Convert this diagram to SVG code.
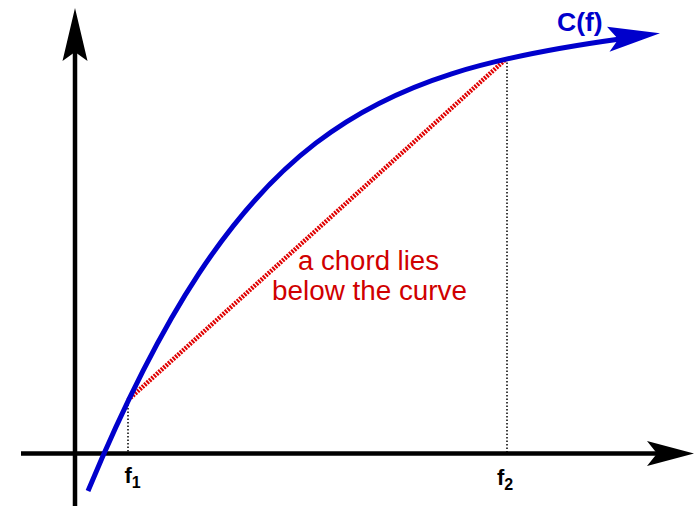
<svg xmlns="http://www.w3.org/2000/svg" width="697" height="506" viewBox="0 0 697 506">
<style>
.axis{stroke:#000;stroke-width:4.5;fill:none}
.head{fill:#000;stroke:none}
.curve{stroke:#0000cc;stroke-width:5;fill:none}
.chord{stroke:#e00000;stroke-width:4.5;stroke-dasharray:2 1.2;fill:none}
.guide{stroke:#000;stroke-width:1.5;stroke-dasharray:1.5 2;fill:none}
.lbl{font-family:"Liberation Sans",Arial,sans-serif;font-weight:bold;fill:#000}
.note{font-family:"Liberation Sans",Arial,sans-serif;font-size:27px;fill:#d00000;text-anchor:middle}
</style>
<rect width="697" height="506" fill="#fff"/>
<g id="axes">
<line class="axis" x1="75" y1="506" x2="75" y2="50"/>
<polygon class="head" points="75,8 87.5,61 75,52 62.5,61"/>
<line class="axis" x1="21" y1="453.5" x2="660" y2="453.5"/>
<polygon class="head" points="694,453.5 647,466 657,453.5 647,441"/>
</g>
<g id="guides">
<line class="guide" x1="128" y1="401" x2="128" y2="452"/>
<line class="guide" x1="507" y1="59" x2="507" y2="452"/>
</g>
<g id="chord">
<line class="chord" x1="128" y1="400" x2="506" y2="59"/>
</g>
<g id="curve">
<path class="curve" d="M88,491 C238,131 368,74 620,39"/>
<polygon fill="#0000cc" points="660,33.3 607,26.7 618.3,39.3 609.5,51.7"/>
<text class="lbl" x="557" y="31" font-size="26.5" style="fill:#0000cc">C(f)</text>
</g>
<g id="label-f1">
<text class="lbl" x="124.5" y="483" font-size="22">f<tspan font-size="16" dy="5">1</tspan></text>
</g>
<g id="label-f2">
<text class="lbl" x="497" y="485" font-size="22">f<tspan font-size="16" dy="5">2</tspan></text>
</g>
<g id="chord-note">
<text class="note" x="368.5" y="270" textLength="141" lengthAdjust="spacingAndGlyphs">a chord lies</text>
<text class="note" x="369.5" y="300" textLength="195" lengthAdjust="spacingAndGlyphs">below the curve</text>
</g>
</svg>
